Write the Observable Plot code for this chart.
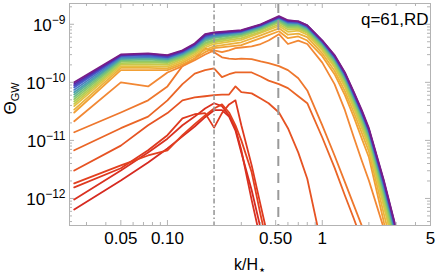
<!DOCTYPE html>
<html><head><meta charset="utf-8">
<script src="https://cdn.jsdelivr.net/npm/d3@7"></script>
<script src="https://cdn.jsdelivr.net/npm/@observablehq/plot@0.6"></script>
<style>
body{margin:0;background:#fff;}
#chart{width:436px;height:277px;}
</style></head><body><div id="chart"></div>
<script>
// wavenumber grids k/H*
const kLow = [0.025, 0.05, 0.075, 0.1, 0.125, 0.15, 0.175, 0.2, 0.225, 0.25, 0.275, 0.3, 0.35, 0.4, 0.45, 0.525, 0.6, 0.7, 0.8, 1.0, 1.2, 1.4, 1.6, 1.8, 2.0, 2.5, 3.0];
const kBundle = [0.025, 0.05, 0.075, 0.1, 0.125, 0.15, 0.175, 0.2, 0.3, 0.4, 0.525, 0.6, 0.7, 0.8, 1.0, 1.2, 1.4, 1.6, 1.8, 2.0, 2.5, 3.0, 3.5];

// early snapshots (red -> orange), log10 of Theta_GW, on kLow
const log10ThetaEarly = [
  [-12.19, -11.69, -11.38, -11.14, -10.93, -10.76, -10.60, -10.48, -10.48, -10.59, -10.83, -11.21, -11.86, -12.52, -12.90],
  [-12.02, -11.52, -11.21, -10.97, -10.74, -10.59, -10.45, -10.36, -10.41, -10.57, -10.79, -11.17, -12.03, -12.72],
  [-11.81, -11.48, -11.17, -10.91, -10.62, -10.55, -10.53, -10.78, -10.53, -10.38, -10.31, -10.74, -11.43, -12.12, -12.72],
  [-11.74, -11.43, -11.26, -11.17, -10.91, -10.72, -10.57, -10.45, -10.38, -10.52, -10.74, -11.00, -11.55, -12.29, -12.90],
  [-11.52, -11.09, -10.74, -10.53, -10.31, -10.26, -10.24, -10.22, -10.21, -10.21, -10.07, -10.17, -10.19, -10.28, -10.36, -10.52, -10.79, -11.21, -11.66, -12.86],
  [-11.17, -10.79, -10.59, -10.31, -10.03, -9.85, -9.79, -9.76, -9.91, -9.86, -9.83, -9.83, -9.83, -9.90, -9.97, -10.03, -10.10, -10.24, -10.36, -10.95, -11.47, -11.95, -12.35, -12.72],
  [-10.86, -10.52, -10.31, -10.07, -9.72, -9.59, -9.41, -9.48, -9.57, -9.59, -9.60, -9.59, -9.60, -9.64, -9.67, -9.72, -9.79, -9.93, -10.14, -10.74, -11.26, -11.72, -12.12, -12.47, -12.90],
  [-10.67, -10.00, -10.07, -9.83, -9.72, -9.62, -9.52, -9.45, -9.48, -9.45, -9.41, -9.40, -9.38, -9.34, -9.28, -9.17, -9.34, -9.28, -9.34, -9.66, -10.03, -10.48, -10.95, -11.35, -11.69, -12.52]
];

// later snapshots (yellow -> purple), log10 of Theta_GW, on kBundle
const log10ThetaLate = [
  [-10.52, -9.79, -9.79, -9.79, -9.69, -9.59, -9.48, -9.41, -9.36, -9.24, -9.12, -9.24, -9.21, -9.28, -9.55, -9.86, -10.22, -10.60, -10.97, -11.29, -12.41, -13.24, -14.10],
  [-10.47, -9.75, -9.75, -9.76, -9.66, -9.55, -9.44, -9.38, -9.31, -9.19, -9.07, -9.18, -9.16, -9.22, -9.50, -9.80, -10.15, -10.52, -10.87, -11.19, -12.27, -13.10, -13.93],
  [-10.41, -9.72, -9.72, -9.73, -9.63, -9.52, -9.40, -9.34, -9.27, -9.15, -9.03, -9.13, -9.11, -9.18, -9.45, -9.74, -10.08, -10.45, -10.79, -11.11, -12.15, -12.98, -13.79],
  [-10.37, -9.69, -9.69, -9.70, -9.60, -9.49, -9.37, -9.31, -9.24, -9.13, -9.00, -9.09, -9.08, -9.15, -9.42, -9.71, -10.03, -10.40, -10.73, -11.05, -12.07, -12.89, -13.69],
  [-10.33, -9.67, -9.66, -9.67, -9.58, -9.47, -9.34, -9.29, -9.21, -9.10, -8.97, -9.06, -9.06, -9.13, -9.39, -9.67, -9.99, -10.35, -10.69, -11.00, -11.99, -12.82, -13.60],
  [-10.29, -9.64, -9.64, -9.65, -9.56, -9.45, -9.32, -9.27, -9.19, -9.08, -8.95, -9.04, -9.04, -9.11, -9.37, -9.65, -9.96, -10.32, -10.65, -10.96, -11.94, -12.76, -13.53],
  [-10.25, -9.62, -9.61, -9.63, -9.54, -9.43, -9.29, -9.24, -9.17, -9.07, -8.93, -9.02, -9.02, -9.09, -9.35, -9.62, -9.94, -10.29, -10.61, -10.93, -11.89, -12.71, -13.47],
  [-10.21, -9.60, -9.59, -9.61, -9.52, -9.41, -9.27, -9.22, -9.16, -9.05, -8.92, -9.00, -9.00, -9.07, -9.33, -9.60, -9.91, -10.26, -10.58, -10.90, -11.84, -12.67, -13.42],
  [-10.17, -9.59, -9.57, -9.60, -9.51, -9.39, -9.25, -9.21, -9.14, -9.04, -8.90, -8.98, -8.99, -9.06, -9.32, -9.59, -9.89, -10.24, -10.56, -10.87, -11.81, -12.63, -13.38],
  [-10.13, -9.57, -9.56, -9.58, -9.49, -9.38, -9.23, -9.19, -9.13, -9.03, -8.89, -8.97, -8.98, -9.05, -9.31, -9.57, -9.88, -10.22, -10.54, -10.85, -11.78, -12.60, -13.34],
  [-10.09, -9.55, -9.54, -9.57, -9.48, -9.36, -9.21, -9.17, -9.12, -9.02, -8.88, -8.96, -8.97, -9.04, -9.30, -9.56, -9.86, -10.21, -10.52, -10.83, -11.75, -12.58, -13.31],
  [-10.06, -9.54, -9.52, -9.56, -9.47, -9.35, -9.20, -9.16, -9.12, -9.01, -8.88, -8.95, -8.96, -9.03, -9.29, -9.55, -9.85, -10.19, -10.51, -10.82, -11.73, -12.55, -13.28],
  [-10.03, -9.53, -9.51, -9.54, -9.46, -9.34, -9.18, -9.15, -9.11, -9.01, -8.87, -8.94, -8.95, -9.02, -9.28, -9.54, -9.84, -10.18, -10.50, -10.81, -11.71, -12.53, -13.26],
  [-10.00, -9.52, -9.50, -9.53, -9.45, -9.33, -9.17, -9.14, -9.10, -9.00, -8.86, -8.93, -8.95, -9.02, -9.28, -9.53, -9.83, -10.17, -10.48, -10.79, -11.69, -12.52, -13.24]
];

// axes
const xTicksMajor = [0.05, 0.1, 0.5, 1, 5];
const xTickLabels = ["0.05", "0.10", "0.50", "1", "5"];
const xTicksMinor = [0.03, 0.04, 0.06, 0.07, 0.08, 0.09, 0.2, 0.3, 0.4, 0.6, 0.7, 0.8, 0.9, 2, 3, 4];
const yTicksMajor = [1e-12, 1e-11, 1e-10, 1e-9];
const yTickLabels = ["10^−12", "10^−11", "10^−10", "10^−9"];
const yTicksMinor = [4e-13, 5e-13, 6e-13, 7e-13, 8e-13, 9e-13,
  2e-12, 3e-12, 4e-12, 5e-12, 6e-12, 7e-12, 8e-12, 9e-12,
  2e-11, 3e-11, 4e-11, 5e-11, 6e-11, 7e-11, 8e-11, 9e-11,
  2e-10, 3e-10, 4e-10, 5e-10, 6e-10, 7e-10, 8e-10, 9e-10, 2e-9];
const kDashDot = [0.2];
const kDashed = [0.52];
const annotation = "q=61,RD";
const xLabel = "k/H_⋆";
const yLabel = "Θ_GW";

// table
const rows = [];
log10ThetaEarly.forEach((s, i) => s.forEach((v, j) => rows.push({k: kLow[j], theta: 10 ** v, run: i})));
log10ThetaLate.forEach((s, i) => s.forEach((v, j) => rows.push({k: kBundle[j], theta: 10 ** v, run: i + log10ThetaEarly.length})));

const W = 436, H = 277, mt = 3, mr = 6, mb = 52, ml = 69;
const iw = W - ml - mr, ih = H - mt - mb;
const frameColor = "#b3b3b3";

const svg = Plot.plot({
  width: W, height: H,
  marginTop: mt, marginRight: mr, marginBottom: mb, marginLeft: ml,
  style: {fontFamily: "'Liberation Sans', Arial, sans-serif", fontSize: "17px", background: "white", color: "black", overflow: "visible"},
  x: {type: "log", domain: [0.0233, 5], axis: null},
  y: {type: "log", domain: [3.42e-13, 2.28e-9], axis: null},
  color: {type: "linear",
    domain: [0, 3, 5, 7, 8, 10, 12, 14, 16, 18, 20, 21],
    range: ["#d62a20", "#e2401f", "#ea6526", "#f28834", "#f2a035", "#e4c242", "#aece54", "#71c07e", "#4a9fb0", "#4564cc", "#5429ac", "#781c87"],
    interpolate: "rgb"},
  marks: [
    Plot.line(rows, {x: "k", y: "theta", z: "run", stroke: "run", strokeWidth: 1.8, clip: true}),
    Plot.ruleX(kDashDot, {stroke: "#9a9a9a", strokeWidth: 1.6, strokeDasharray: "5,2.5,1.5,2.5"}),
    Plot.ruleX(kDashed, {stroke: "#9a9a9a", strokeWidth: 2, strokeDasharray: "10,7"}),
    Plot.frame({stroke: frameColor}),
    Plot.tickX(xTicksMajor, {x: d => d, stroke: frameColor, insetTop: ih - 5}),
    Plot.tickX(xTicksMinor, {x: d => d, stroke: frameColor, insetTop: ih - 3}),
    Plot.tickX(xTicksMajor, {x: d => d, stroke: frameColor, insetBottom: ih - 5}),
    Plot.tickX(xTicksMinor, {x: d => d, stroke: frameColor, insetBottom: ih - 3}),
    Plot.tickY(yTicksMajor, {y: d => d, stroke: frameColor, insetRight: iw - 5}),
    Plot.tickY(yTicksMinor, {y: d => d, stroke: frameColor, insetRight: iw - 3}),
    Plot.tickY(yTicksMajor, {y: d => d, stroke: frameColor, insetLeft: iw - 5}),
    Plot.tickY(yTicksMinor, {y: d => d, stroke: frameColor, insetLeft: iw - 3}),
    Plot.text(xTicksMajor, {x: d => d, frameAnchor: "bottom", lineAnchor: "middle", dy: 13, text: (d, i) => xTickLabels[i], fontSize: 17}),
    Plot.text(yTicksMajor, {y: d => d, frameAnchor: "left", textAnchor: "end", lineAnchor: "middle", dx: -4, dy: 1, text: (d, i) => yTickLabels[i], fontSize: 17}),
    Plot.text([xLabel], {frameAnchor: "bottom", lineAnchor: "middle", dy: 39, text: d => d, fontSize: 16}),
    Plot.text([yLabel], {frameAnchor: "left", lineAnchor: "middle", dx: -59, rotate: -90, text: d => d, fontSize: 17}),
    Plot.text([annotation], {frameAnchor: "top-right", textAnchor: "end", lineAnchor: "middle", dx: -2, dy: 16, text: d => d, fontSize: 17})
  ]
});

// superscripts / subscripts as real tspans
d3.select(svg).selectAll("text").each(function() {
  const t = d3.select(this);
  const str = t.text();
  let m;
  if ((m = str.match(/^(.*)\^(.*)$/))) {
    t.text(m[1]);
    t.append("tspan").attr("dy", "-0.55em").attr("font-size", "12px").text(m[2]);
  } else if ((m = str.match(/^(.*)_(.*)$/))) {
    t.text(m[1]);
    const sub = t.append("tspan").attr("dy", "0.3em").attr("font-size", "11px").text(m[2]);
    if (m[2] === "⋆") sub.attr("font-family", "'DejaVu Sans', sans-serif").attr("font-size", "13px");
  }
});
document.getElementById("chart").appendChild(svg);
</script>
</body></html>
